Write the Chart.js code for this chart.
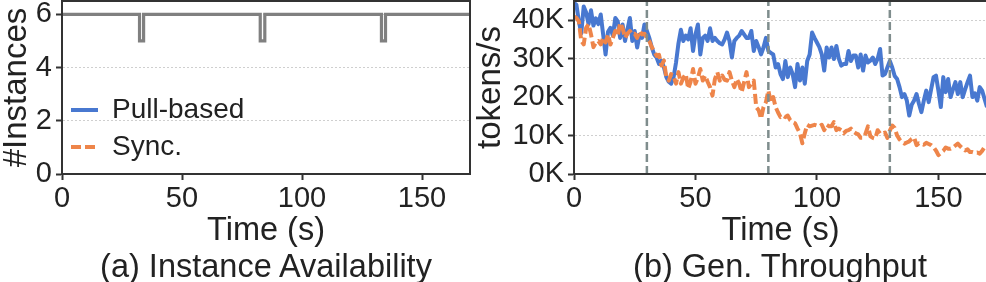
<!DOCTYPE html>
<html><head><meta charset="utf-8">
<script src="https://cdn.jsdelivr.net/npm/chart.js@4.4.1/dist/chart.umd.min.js"></script>
<style>
html,body{margin:0;padding:0;background:#fff;width:986px;height:282px;overflow:hidden;position:relative;}
#wrapA{position:absolute;left:0;top:0;width:472px;height:250px;}
#wrapB{position:absolute;left:472px;top:0;width:518px;height:250px;}
.cap{position:absolute;top:250px;font-family:"Liberation Sans",Arial,sans-serif;font-size:32.5px;line-height:32px;color:#222;white-space:nowrap;transform:translateX(-50%);}
</style></head><body>
<div id="wrapA"><canvas id="cA"></canvas></div>
<div id="wrapB"><canvas id="cB"></canvas></div>
<div class="cap" style="left:266px">(a) Instance Availability</div>
<div class="cap" style="left:780px">(b) Gen. Throughput</div>
<script>
// ---------- data ----------
const seriesNames = ['Pull-based', 'Sync.'];
const seriesColors = ['#4878d0', '#ee854a'];
const seriesDashes = [[], [10, 4]];
const xTicks = [0, 50, 100, 150];
const yTicksInstances = [0, 2, 4, 6];
const yTicksThroughput = ['0K', '10K', '20K', '30K', '40K'];

// instance availability: 6 instances, one lost briefly at each failure
const instanceNormal = 6;
const instanceDuringDip = 5;
const dipStarts = [32.3, 82.6, 133.1];
const dipEnds = [34.0, 84.5, 134.8];
const timeEnd = 170;

// failure times (dashed vertical lines, panel b)
const failureTimes = [30, 80, 130];

// throughput in thousands of tokens/s, one sample per second (t = 0..170)
const seconds = Array.from({length: 171}, (_, i) => i);
const pullBased = [
 44.5,44,39.7,36.6,43.6,42,39,42.6,38.6,40.5,
 39,41.5,36.3,31.1,37,38,36,40.6,39.7,35.4,
 38.9,34.6,37.6,40.6,34.6,37.2,32.9,36.3,35.4,38.9,
 37.2,35.4,33,31.1,30.3,28.6,29.5,27.8,25.2,24,
 23.5,25.2,29,34,37.5,34.6,36,35,37.9,32,
 36.3,38.9,31.1,35.4,36,34.6,37.9,34.6,35.4,34.6,
 34,33.7,35,36.8,34.6,30.3,34.6,35.4,36,37.2,
 36.3,35.4,35.4,37.2,32,34.6,33,31.1,32.9,35.4,
 32,31.5,31.1,27.7,28.6,26,24.7,29.4,25.2,27.7,
 26,22.6,28.6,24.3,27.7,23.5,29.4,31.1,36.8,35.4,
 34.2,33,31.1,26.9,32.9,30.3,32.9,29.9,33.3,30,
 28.2,28.6,28.6,32,29.4,30.8,30.8,27.7,31.1,26.9,
 30.8,29,29.5,30.3,28.6,30,32.5,25.6,26,27.7,
 29.4,27.7,25.5,24.7,22.6,20,20.8,19.1,15.2,18,
 19.1,20.8,18.2,16.1,19.1,21.7,18.7,22,25.2,25.6,
 21.7,17.4,25.2,21.3,24.7,20,22,23.9,20.8,23.9,
 20,22,23.9,25.6,20,21,19.1,22.6,21.7,19.5,17.4
];
const sync = [
 41,40.6,39.7,34.6,33.7,38,39,36.3,33,34.2,
 34.6,33.7,35.4,34.2,36.3,33.7,35.4,37.2,36,39.3,
 38,35.4,36.5,37.2,36.3,36.5,35.4,37.2,36.3,36.5,
 35.4,34.6,33,32,30.7,31,28.2,29.5,25.2,24.3,
 26,25.5,23.5,26.5,23.5,25,26,22.2,24,27.3,
 23.5,25,27.3,24.3,25.6,24,22.6,20.4,24.7,26.5,
 24.3,25.6,24.5,24.3,26.5,24.3,22.6,24.7,23.5,21.3,
 23.8,26.5,22.6,23.5,24.3,17.4,16.6,14.4,17.4,18.7,
 21.7,18.7,20,17.4,16,14.8,15.2,14.8,15.2,14,
 13.5,13.2,11.8,10.6,8,10.6,12.8,12.4,12.6,12.8,
 12.6,12.4,12.8,11.4,12.8,12.4,12.4,13.5,11.4,11.8,
 11.4,10.6,11.2,11.4,11.8,11,10.6,10.3,9.4,9.4,
 10.5,12.4,9.8,9.4,9.2,11.4,10.5,10.5,10.8,9.4,
 11.3,12.6,12,10,9,8.3,7.9,8.2,8.5,9.1,
 9.5,7.5,8,7.9,7.6,8.1,7.8,7.5,7,6.1,
 4.9,5.5,6,6.9,6.6,6.6,6.9,7.4,7.9,7.2,
 6.6,6.1,6.4,5.7,5.7,5.5,5.6,5.3,6,7,7
];

// ---------- styling ----------
const FONT = "'Liberation Sans', Arial, sans-serif";
Chart.defaults.font.family = FONT;
Chart.defaults.color = '#222';
const AXIS = '#333';
const GRID = '#cfcfcf';

const framePlugin = {
  id: 'frame',
  afterDraw(chart) {
    const {ctx, chartArea: a} = chart;
    ctx.save();
    ctx.strokeStyle = AXIS; ctx.lineWidth = 2;
    ctx.strokeRect(a.left, a.top, a.right - a.left, a.bottom - a.top);
    ctx.restore();
  }
};

function xScale(height) {
  return {
    type: 'linear', min: 0, max: timeEnd,
    afterFit(s) { s.height = height; s.paddingLeft = 0; s.paddingRight = 0; },
    afterBuildTicks(s) { s.ticks = xTicks.map(v => ({value: v})); },
    ticks: {font: {size: 29}, color: '#222', padding: 2, maxRotation: 0, autoSkip: false},
    grid: {drawOnChartArea: false, drawTicks: true, tickLength: 6, tickColor: AXIS, tickWidth: 2},
    border: {color: AXIS, width: 2},
    title: {display: true, text: 'Time (s)', font: {size: 32.5, lineHeight: 1}, color: '#222', padding: {top: 0, bottom: 2.5}}
  };
}
function yGrid() {
  return {color: GRID, lineWidth: 1, tickLength: 6, tickColor: AXIS, tickWidth: 2, tickBorderDash: []};
}

// ---------- panel (a) ----------
const instPoints = [{x: 0, y: instanceNormal}];
dipStarts.forEach((s, i) => {
  instPoints.push({x: s, y: instanceNormal}, {x: s, y: instanceDuringDip},
                  {x: dipEnds[i], y: instanceDuringDip}, {x: dipEnds[i], y: instanceNormal});
});
instPoints.push({x: timeEnd, y: instanceNormal});

new Chart(document.getElementById('cA'), {
  type: 'line',
  data: {datasets: [{
    label: '#Instances', data: instPoints, borderColor: '#808080', borderWidth: 3.2,
    pointRadius: 0, tension: 0, borderJoinStyle: 'miter', fill: false
  }]},
  options: {
    responsive: true, maintainAspectRatio: false, animation: false, devicePixelRatio: 1,
    layout: {padding: {top: 1, right: 2, left: 0, bottom: 0}},
    scales: {
      x: xScale(76),
      y: {
        type: 'linear', min: 0, max: 6.5,
        afterFit(s) { s.width = 62; s.paddingTop = 0; s.paddingBottom = 0; },
        afterBuildTicks(s) { s.ticks = yTicksInstances.map(v => ({value: v})); },
        ticks: {font: {size: 29}, color: '#222', padding: 4},
        grid: yGrid(),
        border: {color: AXIS, width: 2, dash: [2, 2]},
        title: {display: true, text: '#Instances', font: {size: 33, lineHeight: 1}, color: '#222', padding: {top: 0, bottom: 0}}
      }
    },
    plugins: {
      tooltip: {enabled: false},
      legend: {
        display: true, position: 'chartArea', align: 'center',
        title: {display: true, text: '', font: {size: 10, lineHeight: 1}, padding: {top: 74, bottom: 0}},
        labels: {
          usePointStyle: true, pointStyleWidth: 27, padding: 9,
          font: {size: 28}, color: '#222',
          generateLabels: () => seriesNames.map((n, i) => ({
            text: n, strokeStyle: seriesColors[i], fillStyle: seriesColors[i],
            lineWidth: 4, lineDash: seriesDashes[i], pointStyle: 'line', hidden: false, datasetIndex: 0
          }))
        }
      }
    }
  },
  plugins: [framePlugin]
});

// ---------- panel (b) ----------
const vDatasets = failureTimes.map(t => ({
  label: 'failure', data: [{x: t, y: 0}, {x: t, y: 45}], borderColor: '#7f8d8d', borderWidth: 2.5,
  borderDash: [8, 4], pointRadius: 0, fill: false, order: 0
}));

new Chart(document.getElementById('cB'), {
  type: 'line',
  data: {
    labels: seconds,
    datasets: [
      {label: seriesNames[1], data: sync, borderColor: seriesColors[1], borderWidth: 4, borderDash: seriesDashes[1],
       pointRadius: 0, tension: 0, borderJoinStyle: 'round', fill: false, order: 1},
      {label: seriesNames[0], data: pullBased, borderColor: seriesColors[0], borderWidth: 4, borderDash: seriesDashes[0],
       pointRadius: 0, tension: 0, borderJoinStyle: 'round', fill: false, order: 2},
      ...vDatasets
    ]
  },
  options: {
    responsive: true, maintainAspectRatio: false, animation: false, devicePixelRatio: 1,
    layout: {padding: {top: 1, right: 3, left: 0, bottom: 0}},
    scales: {
      x: xScale(76),
      y: {
        type: 'linear', min: 0, max: 45,
        afterFit(s) { s.width = 102; s.paddingTop = 0; s.paddingBottom = 0; },
        afterBuildTicks(s) { s.ticks = yTicksThroughput.map(l => ({value: parseFloat(l)})); },
        ticks: {font: {size: 29}, color: '#222', padding: 4,
                callback: (v) => yTicksThroughput.find(l => parseFloat(l) === v)},
        grid: yGrid(),
        border: {color: AXIS, width: 2, dash: [2, 2]},
        title: {display: true, text: 'tokens/s', font: {size: 33, lineHeight: 1}, color: '#222', padding: {top: 2.5, bottom: 0}}
      }
    },
    plugins: {tooltip: {enabled: false}, legend: {display: false}}
  },
  plugins: [framePlugin]
});
</script>
</body></html>
